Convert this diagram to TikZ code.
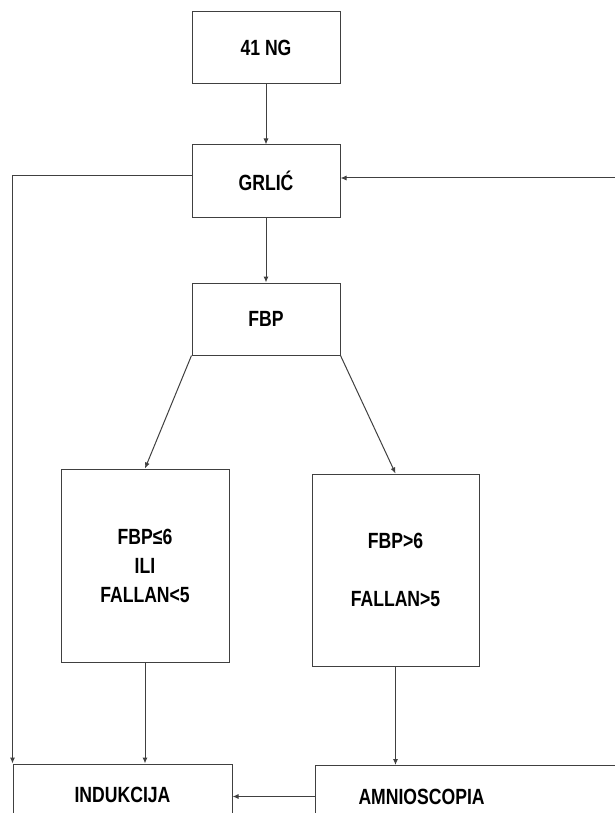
\documentclass[tikz,border=0pt]{standalone}
\usepackage{fontspec}
\setmainfont{Liberation Sans}[FakeStretch=0.8]
\usetikzlibrary{arrows.meta}
\usetikzlibrary{positioning}

\begin{document}
\begin{tikzpicture}[x=1pt, y=-1pt,
    box/.style={draw=black!75, line width=1pt, minimum width=148pt,
      minimum height=72pt, inner sep=0pt, align=center,
      font=\fontsize{22}{29}\selectfont\bfseries},
    flow/.style={draw=black!75, line width=1pt,
      -{Latex[length=6pt, width=5pt]}}]
    \useasboundingbox (0,0) rectangle (615,813);
    \clip (0,0) rectangle (615,813);

    \node[box] (ng) at (266,48) {41 NG};
    \node[box, below=60pt of ng] (grlic) {GRLIĆ};
    \node[box, below=65pt of grlic] (fbp) {FBP};
    \node[box, minimum width=168pt, minimum height=193pt] (low) at (145,565.5)
      {FBP≤6\\ILI\\FALLAN<5};
    \node[box, minimum width=167pt, minimum height=192pt] (high) at (395.5,570)
      {FBP>6\\[29pt]FALLAN>5};
    \node[box, minimum width=219pt, minimum height=62pt] (ind) at (122.5,795)
      {INDUKCIJA};
    \node[box, anchor=north west, minimum height=62pt, inner xsep=43pt,
      text width=250pt, align=left] (amn) at (315,765) {AMNIOSCOPIA};
    \coordinate (back) at (616,178);

    \draw[flow] (ng) -- (grlic);
    \draw[flow] (grlic) -- (fbp);
    \draw[flow] (fbp.south west) -- (low.north);
    \draw[flow] (fbp.south east) -- (high.north);
    \draw[flow] (low.south) -- (low.south |- ind.north);
    \draw[flow] (high.south) -- (high.south |- amn.north);
    \draw[flow] (amn.west) -- (amn.west -| ind.east);
    \draw[flow] ([yshift=5pt]grlic.west) -| (ind.north west);
    \draw[flow] (back) -- (back -| grlic.east);
\end{tikzpicture}
\end{document}
